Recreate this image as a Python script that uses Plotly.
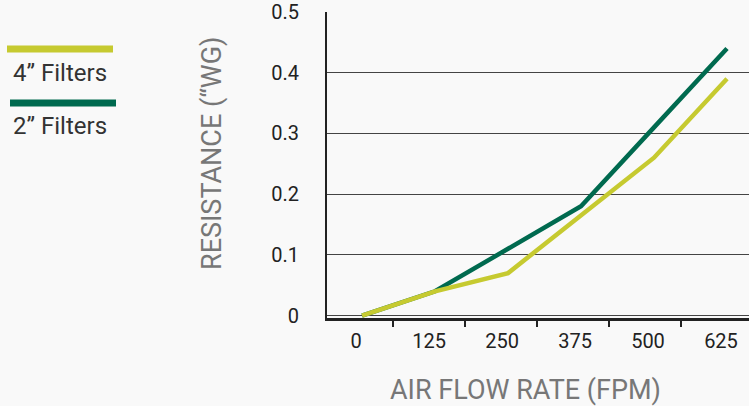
import plotly.graph_objects as go

# ---- data ----
airflow = [0, 125, 250, 375, 500, 625]
tick_labels = ["0", "125", "250", "375", "500", "625"]
filters_4in = [0.0, 0.04, 0.07, 0.165, 0.26, 0.39]
filters_2in = [0.0, 0.04, 0.11, 0.18, 0.31, 0.44]
name_4in = "4\u201d Filters"
name_2in = "2\u201d Filters"
y_ticks = [0, 0.1, 0.2, 0.3, 0.4, 0.5]
y_tick_labels = ["0", "0.1", "0.2", "0.3", "0.4", "0.5"]

C4 = "#c6ca30"
C2 = "#006a4f"
W, H = 749, 406
ML, MR, MT, MB = 327, 0, 12, 88


def px(x):
    return (x - ML) / (W - ML - MR)


def py(y):
    return 1 - (y - MT) / (H - MT - MB)


fig = go.Figure()
fig.add_trace(go.Scatter(x=airflow, y=filters_2in, mode="lines", name=name_2in,
                         line=dict(color=C2, width=4.5)))
fig.add_trace(go.Scatter(x=airflow, y=filters_4in, mode="lines", name=name_4in,
                         line=dict(color=C4, width=4.5)))

font = "Roboto, Arial, sans-serif"
fig.update_layout(
    width=W, height=H,
    margin=dict(l=ML, r=MR, t=MT, b=MB),
    paper_bgcolor="#f9f9f9", plot_bgcolor="#f9f9f9",
    showlegend=False,
    font=dict(family=font),
    xaxis=dict(
        range=[-60, 662.7], tickmode="array", tickvals=airflow, ticktext=tick_labels,
        ticks="", showgrid=False, zeroline=False,
        showline=True, linecolor="#222", linewidth=2.5,
        tickfont=dict(size=20, color="#222"), ticklabelshift=-6, ticklabelstandoff=3,
        minor=dict(tickmode="array", tickvals=[53, 176, 300, 423, 546],
                   ticks="outside", ticklen=6, tickwidth=2, tickcolor="#222", showgrid=False),
    ),
    yaxis=dict(
        range=[-0.004, 0.5], tickmode="array", tickvals=y_ticks, ticktext=y_tick_labels,
        ticks="", showgrid=True, gridcolor="#444", gridwidth=1, zeroline=False,
        showline=True, linecolor="#222", linewidth=2,
        tickfont=dict(size=20, color="#222"), ticklabelstandoff=22,
    ),
)

# legend drawn manually (line above label)
for yline, color, label, ytext, x0, x1 in [
    (49, C4, name_4in, 73, 7, 113),
    (103, C2, name_2in, 126, 10, 116),
]:
    fig.add_shape(type="line", xref="paper", yref="paper",
                  x0=px(x0), x1=px(x1), y0=py(yline), y1=py(yline),
                  line=dict(color=color, width=7))
    fig.add_annotation(text=label, xref="paper", yref="paper", x=px(11), y=py(ytext),
                       xanchor="left", yanchor="middle", showarrow=False,
                       font=dict(size=24, color="#333", family=font))

fig.add_annotation(text="AIR FLOW RATE (FPM)", xref="paper", yref="paper",
                   x=px(525), y=py(390), xanchor="center", yanchor="middle",
                   showarrow=False, font=dict(size=27, color="#777", family=font))
fig.add_annotation(text="RESISTANCE (\u201cWG)", xref="paper", yref="paper",
                   x=px(212), y=py(154), xanchor="center", yanchor="middle", textangle=-90,
                   showarrow=False, font=dict(size=27, color="#777", family=font))

fig.write_html("out.html", config={"displayModeBar": False},
               post_script="document.body.style.margin='0';")
